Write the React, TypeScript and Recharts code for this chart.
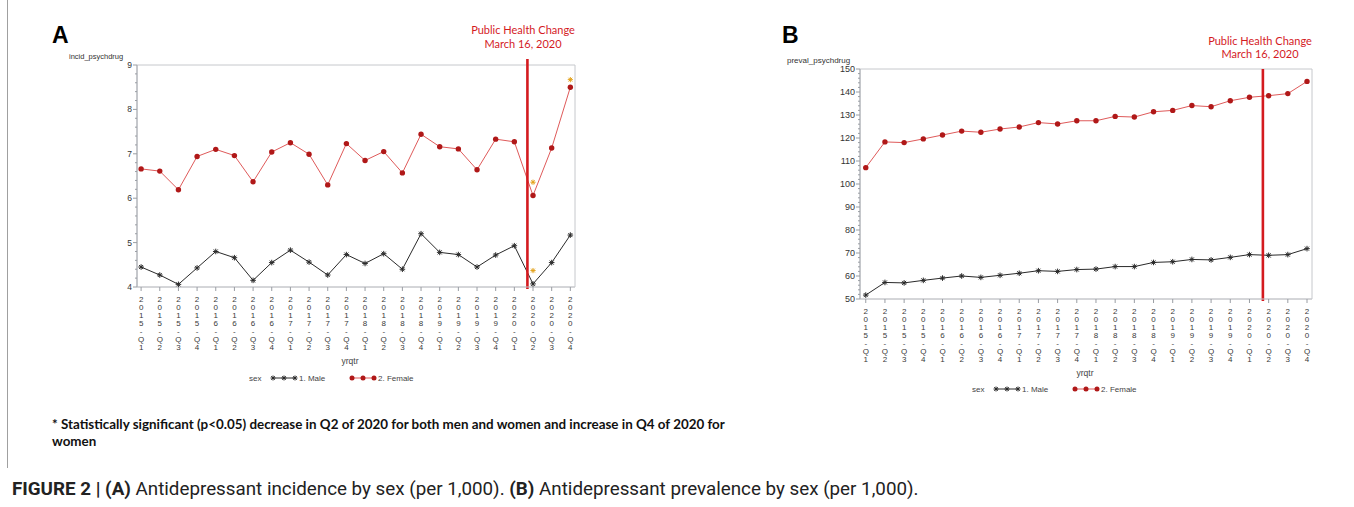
import React from "react";
import {
  LineChart,
  Line,
  XAxis,
  YAxis,
  ReferenceLine,
  ReferenceArea,
} from "recharts";

// quarters on the x axis (both panels)
const quarters = [
  "2015-Q1", "2015-Q2", "2015-Q3", "2015-Q4",
  "2016-Q1", "2016-Q2", "2016-Q3", "2016-Q4",
  "2017-Q1", "2017-Q2", "2017-Q3", "2017-Q4",
  "2018-Q1", "2018-Q2", "2018-Q3", "2018-Q4",
  "2019-Q1", "2019-Q2", "2019-Q3", "2019-Q4",
  "2020-Q1", "2020-Q2", "2020-Q3", "2020-Q4",
];

// panel A: incidence per 1,000
const incidFemale = [6.66, 6.61, 6.19, 6.94, 7.1, 6.96, 6.37, 7.04, 7.25, 6.99, 6.3, 7.23, 6.85, 7.05, 6.57, 7.44, 7.16, 7.11, 6.64, 7.33, 7.27, 6.06, 7.13, 8.5];
const incidMale = [4.45, 4.27, 4.06, 4.43, 4.8, 4.66, 4.15, 4.55, 4.83, 4.56, 4.27, 4.73, 4.53, 4.75, 4.4, 5.2, 4.78, 4.73, 4.45, 4.72, 4.93, 4.07, 4.55, 5.17];
// significance asterisks (orange)
const incidSigFemale = [null, null, null, null, null, null, null, null, null, null, null, null, null, null, null, null, null, null, null, null, null, 6.36, null, 8.67];
const incidSigMale = [null, null, null, null, null, null, null, null, null, null, null, null, null, null, null, null, null, null, null, null, null, 4.37, null, null];

// panel B: prevalence per 1,000
const prevalFemale = [107.1, 118.3, 118.0, 119.6, 121.3, 123.0, 122.5, 123.9, 124.8, 126.7, 126.1, 127.5, 127.5, 129.4, 129.1, 131.4, 132.0, 134.1, 133.6, 136.2, 137.7, 138.4, 139.3, 144.6];
const prevalMale = [51.7, 57.2, 57.0, 58.1, 59.1, 60.0, 59.4, 60.3, 61.2, 62.3, 62.0, 62.8, 63.0, 64.1, 64.1, 65.9, 66.2, 67.2, 67.0, 68.1, 69.3, 69.0, 69.3, 71.9];

const incidTicks = [4, 5, 6, 7, 8, 9];
const prevalTicks = [50, 60, 70, 80, 90, 100, 110, 120, 130, 140, 150];

// public health change (March 16, 2020), in quarter-index units
const policyChange = 20.7;

const FONT = "'Liberation Sans', Arial, sans-serif";
const RED_LINE = "#d41a1f";
const FEMALE_LINE = "#df5a5a";
const FEMALE_DOT = "#b01818";
const MALE = "#2a2a2a";
const SIG = "#e3a21a";
const FRAME = "#c6c8cc";

function withMinors(majors: number[], parts: number) {
  const out: number[] = [];
  for (let i = 0; i < majors.length; i++) {
    out.push(majors[i]);
    if (i < majors.length - 1) {
      const step = (majors[i + 1] - majors[i]) / parts;
      for (let k = 1; k < parts; k++) out.push(+(majors[i] + step * k).toFixed(4));
    }
  }
  return out;
}

const idxTicks = quarters.map((_, i) => i);

function Star({ cx, cy, color, r = 2.8 }: any) {
  if (cx == null || cy == null) return null;
  const d = r * 0.72;
  return (
    <g stroke={color} strokeWidth={1}>
      <line x1={cx - r} y1={cy} x2={cx + r} y2={cy} />
      <line x1={cx} y1={cy - r} x2={cx} y2={cy + r} />
      <line x1={cx - d} y1={cy - d} x2={cx + d} y2={cy + d} />
      <line x1={cx - d} y1={cy + d} x2={cx + d} y2={cy - d} />
    </g>
  );
}

function XTick({ x, y, payload }: any) {
  const label = quarters[payload.value] ?? "";
  const chars = label.split("");
  return (
    <g>
      {chars.map((c, i) => (
        <text
          key={i}
          x={x}
          y={y + 8 + i * 8}
          dy="0.35em"
          textAnchor="middle"
          fontSize={8}
          fontFamily={FONT}
          fill="#3a3a3a"
        >
          {c}
        </text>
      ))}
    </g>
  );
}

function YTick({ x, y, payload, majorTicks, fontSize }: any) {
  const v = payload.value;
  const major = majorTicks.includes(v);
  return (
    <g>
      <line x1={x} y1={y} x2={x - (major ? 4 : 2)} y2={y} stroke="#9a9ea4" strokeWidth={1} />
      {major && (
        <text x={x - 5} y={y} dy="0.35em" textAnchor="end" fontSize={fontSize} fontFamily={FONT} fill="#333">
          {v}
        </text>
      )}
    </g>
  );
}

function Txt({ x, y, children, style, anchor = "center" }: any) {
  const tx = anchor === "center" ? "-50%" : "0";
  return (
    <div
      style={{
        position: "absolute",
        left: x,
        top: y,
        transform: `translate(${tx}, -50%)`,
        whiteSpace: "nowrap",
        lineHeight: 1.2,
        ...style,
      }}
    >
      {children}
    </div>
  );
}

function SexLegend({ x, y }: { x: number; y: number }) {
  return (
    <svg style={{ position: "absolute", left: x, top: y - 8 }} width={180} height={16}>
      <text x={0} y={8} dy="0.35em" fontSize={8} fontFamily={FONT} fill="#444">sex</text>
      <line x1={23} y1={8} x2={47} y2={8} stroke={MALE} strokeWidth={1} />
      {[24, 35, 46].map((cx) => (
        <Star key={cx} cx={cx} cy={8} color={MALE} r={2.5} />
      ))}
      <text x={50} y={8} dy="0.35em" fontSize={8} fontFamily={FONT} fill="#444">1. Male</text>
      <line x1={102} y1={8} x2={126} y2={8} stroke={FEMALE_LINE} strokeWidth={1} />
      {[103, 114, 125].map((cx) => (
        <circle key={cx} cx={cx} cy={8} r={2.5} fill={FEMALE_DOT} />
      ))}
      <text x={129} y={8} dy="0.35em" fontSize={8} fontFamily={FONT} fill="#444">2. Female</text>
    </svg>
  );
}

const rowsA = quarters.map((q, i) => ({
  idx: i,
  label: q,
  female: incidFemale[i],
  male: incidMale[i],
  sigF: incidSigFemale[i],
  sigM: incidSigMale[i],
}));

const rowsB = quarters.map((q, i) => ({
  idx: i,
  label: q,
  female: prevalFemale[i],
  male: prevalMale[i],
}));

const domainA: [number, number] = [-0.22, 23.25];
const domainB: [number, number] = [-0.3, 23.26];

function redLineShape(extendTop: number) {
  return (p: any) => {
    const top = Math.min(p.y1, p.y2) - extendTop;
    const bottom = Math.max(p.y1, p.y2) + 2;
    return <line x1={p.x1} x2={p.x2} y1={top} y2={bottom} stroke={RED_LINE} strokeWidth={2.6} />;
  };
}

function PanelA() {
  const ticks = withMinors(incidTicks, 5);
  return (
    <div style={{ position: "absolute", left: 0, top: 0 }}>
      <LineChart width={600} height={360} data={rowsA} margin={{ top: 65, right: 25, left: 0, bottom: 0 }}>
        <XAxis
          type="number"
          dataKey="idx"
          domain={domainA}
          allowDataOverflow
          ticks={idxTicks}
          interval={0}
          height={73}
          tickSize={4}
          tickMargin={0}
          stroke={FRAME}
          tickLine={{ stroke: "#9a9ea4" }}
          tick={<XTick />}
        />
        <YAxis
          type="number"
          domain={[4, 9]}
          allowDataOverflow
          ticks={ticks}
          interval={0}
          width={137}
          tickSize={0}
          tickMargin={0}
          tickLine={false}
          stroke="#a8acb2"
          tick={(p: any) => <YTick {...p} majorTicks={incidTicks} fontSize={8.5} />}
        />
        <ReferenceArea x1={domainA[0]} x2={domainA[1]} y1={4} y2={9} fill="none" stroke={FRAME} strokeWidth={1} />
        <Line
          dataKey="female"
          stroke={FEMALE_LINE}
          strokeWidth={1}
          isAnimationActive={false}
          dot={(p: any) => <circle key={p.index} cx={p.cx} cy={p.cy} r={2.7} fill={FEMALE_DOT} />}
        />
        <Line
          dataKey="male"
          stroke={MALE}
          strokeWidth={1}
          isAnimationActive={false}
          dot={(p: any) => <Star key={p.index} cx={p.cx} cy={p.cy} color={MALE} />}
        />
        <Line
          dataKey="sigF"
          stroke="none"
          isAnimationActive={false}
          dot={(p: any) => <Star key={p.index} cx={p.cx} cy={p.cy} color={SIG} r={2.6} />}
        />
        <Line
          dataKey="sigM"
          stroke="none"
          isAnimationActive={false}
          dot={(p: any) => <Star key={p.index} cx={p.cx} cy={p.cy} color={SIG} r={2.6} />}
        />
        <ReferenceLine x={policyChange} stroke={RED_LINE} strokeWidth={2.6} shape={redLineShape(6)} />
      </LineChart>
    </div>
  );
}

function PanelB() {
  const ticks = withMinors(prevalTicks, 5);
  return (
    <div style={{ position: "absolute", left: 700, top: 0 }}>
      <LineChart width={640} height={372} data={rowsB} margin={{ top: 69, right: 28, left: 0, bottom: 0 }}>
        <XAxis
          type="number"
          dataKey="idx"
          domain={domainB}
          allowDataOverflow
          ticks={idxTicks}
          interval={0}
          height={73}
          tickSize={4}
          tickMargin={0}
          stroke={FRAME}
          tickLine={{ stroke: "#9a9ea4" }}
          tick={<XTick />}
        />
        <YAxis
          type="number"
          domain={[50, 150]}
          allowDataOverflow
          ticks={ticks}
          interval={0}
          width={160}
          tickSize={0}
          tickMargin={0}
          tickLine={false}
          stroke="#a8acb2"
          tick={(p: any) => <YTick {...p} majorTicks={prevalTicks} fontSize={9} />}
        />
        <ReferenceArea x1={domainB[0]} x2={domainB[1]} y1={50} y2={150} fill="none" stroke={FRAME} strokeWidth={1} />
        <Line
          dataKey="female"
          stroke={FEMALE_LINE}
          strokeWidth={1}
          isAnimationActive={false}
          dot={(p: any) => <circle key={p.index} cx={p.cx} cy={p.cy} r={2.7} fill={FEMALE_DOT} />}
        />
        <Line
          dataKey="male"
          stroke={MALE}
          strokeWidth={1}
          isAnimationActive={false}
          dot={(p: any) => <Star key={p.index} cx={p.cx} cy={p.cy} color={MALE} />}
        />
        <ReferenceLine x={policyChange} stroke={RED_LINE} strokeWidth={2.6} shape={redLineShape(0)} />
      </LineChart>
    </div>
  );
}

export default function App() {
  const note = { fontFamily: "Lato, 'Open Sans', sans-serif", fontSize: 11, color: RED_LINE };
  const axisTitle = { fontFamily: FONT, fontSize: 8, color: "#333" };
  const foot = { fontFamily: "Lato, sans-serif", fontSize: 13.4, fontWeight: 700, color: "#111" };
  return (
    <div
      style={{
        position: "absolute",
        left: 0,
        top: 0,
        width: 1354,
        height: 507,
        background: "#fff",
        overflow: "hidden",
        fontFamily: FONT,
      }}
    >
      <div style={{ position: "absolute", left: 7, top: 0, width: 1, height: 468, background: "#a0a0a0" }} />

      <PanelA />
      <PanelB />

      <Txt x={52} y={36} anchor="left" style={{ fontSize: 23, fontWeight: 700, color: "#000" }}>A</Txt>
      <Txt x={782} y={36} anchor="left" style={{ fontSize: 23, fontWeight: 700, color: "#000" }}>B</Txt>

      <Txt x={69} y={56} anchor="left" style={{ ...axisTitle, fontSize: 7.5 }}>incid_psychdrug</Txt>
      <Txt x={787} y={61} anchor="left" style={axisTitle}>preval_psychdrug</Txt>

      <Txt x={523} y={30} style={note}>Public Health Change</Txt>
      <Txt x={523} y={43.5} style={note}>March 16, 2020</Txt>
      <Txt x={1260} y={40.5} style={note}>Public Health Change</Txt>
      <Txt x={1260} y={53.5} style={note}>March 16, 2020</Txt>

      <Txt x={350} y={361} style={{ fontFamily: FONT, fontSize: 8.5, color: "#444" }}>yrqtr</Txt>
      <Txt x={1085} y={373} style={{ fontFamily: FONT, fontSize: 8.5, color: "#444" }}>yrqtr</Txt>

      <SexLegend x={249} y={378} />
      <SexLegend x={972} y={389} />

      <Txt x={52} y={424} anchor="left" style={foot}>
        * Statistically significant (p&lt;0.05) decrease in Q2 of 2020 for both men and women and increase in Q4 of 2020 for
      </Txt>
      <Txt x={52} y={441} anchor="left" style={foot}>
        women
      </Txt>

      <Txt x={12} y={489} anchor="left" style={{ fontFamily: "Roboto, sans-serif", fontSize: 18.8, color: "#222" }}>
        <b>FIGURE 2 | (A)</b> Antidepressant incidence by sex (per 1,000). <b>(B)</b> Antidepressant prevalence by sex (per 1,000).
      </Txt>
    </div>
  );
}
